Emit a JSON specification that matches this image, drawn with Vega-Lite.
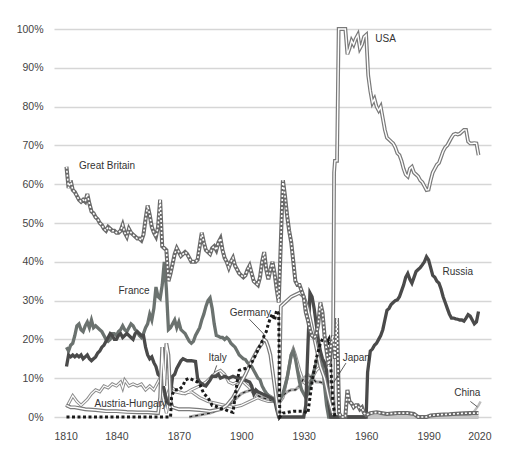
{
"$schema":"https://vega.github.io/schema/vega-lite/v6.json",
"width":437,"height":388,"autosize":{"type":"none"},
"padding":{"left":54,"top":29,"right":26,"bottom":50},
"background":"white",
"datasets":{
"s":[
{"c":"GB","x":1816,"v":64.5},{"c":"GB","x":1817,"v":59},{"c":"GB","x":1818,"v":61},{"c":"GB","x":1819,"v":58.5},{"c":"GB","x":1820,"v":58},{"c":"GB","x":1821,"v":57},{"c":"GB","x":1822,"v":56},{"c":"GB","x":1823,"v":55.5},{"c":"GB","x":1824,"v":56},{"c":"GB","x":1825,"v":55.5},{"c":"GB","x":1826,"v":57.5},{"c":"GB","x":1827,"v":55},{"c":"GB","x":1828,"v":53},{"c":"GB","x":1829,"v":52.5},{"c":"GB","x":1830,"v":51.5},{"c":"GB","x":1831,"v":51},{"c":"GB","x":1832,"v":50},{"c":"GB","x":1833,"v":49.5},{"c":"GB","x":1834,"v":48.5},{"c":"GB","x":1835,"v":48},{"c":"GB","x":1836,"v":49},{"c":"GB","x":1837,"v":48.5},{"c":"GB","x":1838,"v":48},{"c":"GB","x":1839,"v":48},{"c":"GB","x":1840,"v":47.5},{"c":"GB","x":1841,"v":47.5},{"c":"GB","x":1842,"v":48},{"c":"GB","x":1843,"v":49.5},{"c":"GB","x":1844,"v":47.5},{"c":"GB","x":1845,"v":46.5},{"c":"GB","x":1846,"v":48.5},{"c":"GB","x":1847,"v":47.5},{"c":"GB","x":1848,"v":47},{"c":"GB","x":1849,"v":46.5},{"c":"GB","x":1850,"v":46},{"c":"GB","x":1851,"v":46},{"c":"GB","x":1852,"v":45.5},{"c":"GB","x":1853,"v":47},{"c":"GB","x":1854,"v":51},{"c":"GB","x":1855,"v":54.5},{"c":"GB","x":1856,"v":52},{"c":"GB","x":1857,"v":49},{"c":"GB","x":1858,"v":47.5},{"c":"GB","x":1859,"v":46.5},{"c":"GB","x":1860,"v":49},{"c":"GB","x":1861,"v":56},{"c":"GB","x":1862,"v":44},{"c":"GB","x":1863,"v":43.5},{"c":"GB","x":1864,"v":43},{"c":"GB","x":1865,"v":35},{"c":"GB","x":1866,"v":37},{"c":"GB","x":1867,"v":39.5},{"c":"GB","x":1868,"v":42},{"c":"GB","x":1869,"v":43.5},{"c":"GB","x":1870,"v":42.5},{"c":"GB","x":1871,"v":41.5},{"c":"GB","x":1872,"v":42},{"c":"GB","x":1873,"v":42.5},{"c":"GB","x":1874,"v":42},{"c":"GB","x":1875,"v":41},{"c":"GB","x":1876,"v":40},{"c":"GB","x":1877,"v":40},{"c":"GB","x":1878,"v":40},{"c":"GB","x":1879,"v":40.5},{"c":"GB","x":1880,"v":44},{"c":"GB","x":1881,"v":47.5},{"c":"GB","x":1882,"v":45},{"c":"GB","x":1883,"v":43},{"c":"GB","x":1884,"v":42.5},{"c":"GB","x":1885,"v":42},{"c":"GB","x":1886,"v":43.5},{"c":"GB","x":1887,"v":44},{"c":"GB","x":1888,"v":43},{"c":"GB","x":1889,"v":45},{"c":"GB","x":1890,"v":46},{"c":"GB","x":1891,"v":43},{"c":"GB","x":1892,"v":41},{"c":"GB","x":1893,"v":40},{"c":"GB","x":1894,"v":38.5},{"c":"GB","x":1895,"v":40},{"c":"GB","x":1896,"v":41},{"c":"GB","x":1897,"v":39},{"c":"GB","x":1898,"v":38},{"c":"GB","x":1899,"v":37},{"c":"GB","x":1900,"v":36.5},{"c":"GB","x":1901,"v":36},{"c":"GB","x":1902,"v":36.5},{"c":"GB","x":1903,"v":38},{"c":"GB","x":1904,"v":39},{"c":"GB","x":1905,"v":37},{"c":"GB","x":1906,"v":35},{"c":"GB","x":1907,"v":34.5},{"c":"GB","x":1908,"v":34},{"c":"GB","x":1909,"v":36},{"c":"GB","x":1910,"v":40},{"c":"GB","x":1911,"v":42.5},{"c":"GB","x":1912,"v":38},{"c":"GB","x":1913,"v":35.5},{"c":"GB","x":1914,"v":38},{"c":"GB","x":1915,"v":40},{"c":"GB","x":1916,"v":37},{"c":"GB","x":1917,"v":33},{"c":"GB","x":1918,"v":29.5},{"c":"GB","x":1919,"v":45},{"c":"GB","x":1920,"v":61},{"c":"GB","x":1921,"v":57},{"c":"GB","x":1922,"v":52},{"c":"GB","x":1923,"v":48},{"c":"GB","x":1924,"v":45},{"c":"GB","x":1925,"v":40},{"c":"GB","x":1926,"v":35},{"c":"GB","x":1927,"v":34},{"c":"GB","x":1928,"v":34},{"c":"GB","x":1929,"v":32.5},{"c":"GB","x":1930,"v":31},{"c":"GB","x":1931,"v":27},{"c":"GB","x":1932,"v":25},{"c":"GB","x":1933,"v":22.5},{"c":"GB","x":1934,"v":21},{"c":"GB","x":1935,"v":20.5},{"c":"GB","x":1936,"v":21},{"c":"GB","x":1937,"v":24},{"c":"GB","x":1938,"v":29.5},{"c":"GB","x":1939,"v":27},{"c":"GB","x":1940,"v":21},{"c":"GB","x":1941,"v":17},{"c":"GB","x":1942,"v":13},{"c":"GB","x":1943,"v":18},{"c":"GB","x":1944,"v":21},{"c":"GB","x":1945,"v":15},{"c":"GB","x":1946,"v":25.5},{"c":"GB","x":1947,"v":1},{"c":"GB","x":1948,"v":0},{"c":"GB","x":1950,"v":0},{"c":"GB","x":1951,"v":7},{"c":"GB","x":1952,"v":4},{"c":"GB","x":1953,"v":3.5},{"c":"GB","x":1954,"v":2.5},{"c":"GB","x":1955,"v":3},{"c":"GB","x":1956,"v":3},{"c":"GB","x":1957,"v":2},{"c":"GB","x":1958,"v":2.5},{"c":"GB","x":1959,"v":1},{"c":"GB","x":1960,"v":0.5},{"c":"GB","x":1962,"v":1},{"c":"GB","x":1965,"v":1.2},{"c":"GB","x":1970,"v":0.8},{"c":"GB","x":1975,"v":1},{"c":"GB","x":1980,"v":1},{"c":"GB","x":1983,"v":0.8},{"c":"GB","x":1985,"v":0},{"c":"GB","x":1989,"v":0},{"c":"GB","x":1991,"v":0.4},{"c":"GB","x":1995,"v":0.6},{"c":"GB","x":2000,"v":0.7},{"c":"GB","x":2005,"v":0.9},{"c":"GB","x":2010,"v":1},{"c":"GB","x":2014,"v":1},

{"c":"USA","x":1816,"v":3},{"c":"USA","x":1818,"v":2.5},{"c":"USA","x":1820,"v":2.5},{"c":"USA","x":1825,"v":2},{"c":"USA","x":1830,"v":1.8},{"c":"USA","x":1835,"v":1.5},{"c":"USA","x":1840,"v":1.5},{"c":"USA","x":1845,"v":1.3},{"c":"USA","x":1850,"v":1.2},{"c":"USA","x":1855,"v":1.2},{"c":"USA","x":1860,"v":1},{"c":"USA","x":1861,"v":5},{"c":"USA","x":1862,"v":18},{"c":"USA","x":1863,"v":8},{"c":"USA","x":1864,"v":19},{"c":"USA","x":1865,"v":16},{"c":"USA","x":1866,"v":4},{"c":"USA","x":1867,"v":2.5},{"c":"USA","x":1870,"v":2},{"c":"USA","x":1875,"v":2},{"c":"USA","x":1880,"v":1.8},{"c":"USA","x":1885,"v":1.5},{"c":"USA","x":1890,"v":2},{"c":"USA","x":1893,"v":3},{"c":"USA","x":1896,"v":5},{"c":"USA","x":1899,"v":8},{"c":"USA","x":1902,"v":11},{"c":"USA","x":1905,"v":14.5},{"c":"USA","x":1908,"v":17.5},{"c":"USA","x":1910,"v":19},{"c":"USA","x":1911,"v":20},{"c":"USA","x":1912,"v":19.5},{"c":"USA","x":1913,"v":18},{"c":"USA","x":1914,"v":16},{"c":"USA","x":1915,"v":12},{"c":"USA","x":1916,"v":8},{"c":"USA","x":1917,"v":4},{"c":"USA","x":1918,"v":0.5},{"c":"USA","x":1919,"v":28.5},{"c":"USA","x":1920,"v":29},{"c":"USA","x":1922,"v":30},{"c":"USA","x":1924,"v":31},{"c":"USA","x":1926,"v":31.5},{"c":"USA","x":1928,"v":32},{"c":"USA","x":1930,"v":31},{"c":"USA","x":1932,"v":28},{"c":"USA","x":1934,"v":23},{"c":"USA","x":1936,"v":18},{"c":"USA","x":1938,"v":13},{"c":"USA","x":1940,"v":10},{"c":"USA","x":1942,"v":5},{"c":"USA","x":1943.9,"v":1},{"c":"USA","x":1944.6,"v":63},{"c":"USA","x":1945,"v":66},{"c":"USA","x":1946,"v":66},{"c":"USA","x":1946.8,"v":100},{"c":"USA","x":1948,"v":100},{"c":"USA","x":1950,"v":100},{"c":"USA","x":1951,"v":93.5},{"c":"USA","x":1952,"v":95},{"c":"USA","x":1953,"v":97},{"c":"USA","x":1954,"v":96},{"c":"USA","x":1955,"v":97.5},{"c":"USA","x":1956,"v":98.5},{"c":"USA","x":1957,"v":95},{"c":"USA","x":1958,"v":96},{"c":"USA","x":1959,"v":98},{"c":"USA","x":1960,"v":98.5},{"c":"USA","x":1961,"v":88},{"c":"USA","x":1962,"v":84},{"c":"USA","x":1963,"v":81},{"c":"USA","x":1964,"v":82},{"c":"USA","x":1965,"v":80},{"c":"USA","x":1966,"v":79},{"c":"USA","x":1967,"v":80},{"c":"USA","x":1968,"v":77},{"c":"USA","x":1969,"v":74},{"c":"USA","x":1970,"v":72},{"c":"USA","x":1971,"v":71.5},{"c":"USA","x":1972,"v":71},{"c":"USA","x":1973,"v":70.5},{"c":"USA","x":1974,"v":69.5},{"c":"USA","x":1975,"v":68},{"c":"USA","x":1976,"v":67.5},{"c":"USA","x":1977,"v":66},{"c":"USA","x":1978,"v":64},{"c":"USA","x":1979,"v":62.5},{"c":"USA","x":1980,"v":62},{"c":"USA","x":1981,"v":64},{"c":"USA","x":1982,"v":64.5},{"c":"USA","x":1983,"v":63},{"c":"USA","x":1984,"v":62.5},{"c":"USA","x":1985,"v":62},{"c":"USA","x":1986,"v":61},{"c":"USA","x":1987,"v":60.5},{"c":"USA","x":1988,"v":59.5},{"c":"USA","x":1989,"v":58.5},{"c":"USA","x":1990,"v":58.6},{"c":"USA","x":1991,"v":61},{"c":"USA","x":1992,"v":63},{"c":"USA","x":1993,"v":64},{"c":"USA","x":1994,"v":65},{"c":"USA","x":1995,"v":65.5},{"c":"USA","x":1996,"v":67},{"c":"USA","x":1997,"v":68.5},{"c":"USA","x":1998,"v":69.5},{"c":"USA","x":1999,"v":70},{"c":"USA","x":2000,"v":71},{"c":"USA","x":2001,"v":72},{"c":"USA","x":2002,"v":72.8},{"c":"USA","x":2003,"v":73},{"c":"USA","x":2004,"v":72.8},{"c":"USA","x":2005,"v":73},{"c":"USA","x":2006,"v":73.5},{"c":"USA","x":2007,"v":74},{"c":"USA","x":2008,"v":74},{"c":"USA","x":2009,"v":71},{"c":"USA","x":2010,"v":70.5},{"c":"USA","x":2011,"v":70.5},{"c":"USA","x":2012,"v":70.6},{"c":"USA","x":2013,"v":70.5},{"c":"USA","x":2014,"v":67.5},

{"c":"Russia","x":1816,"v":13},{"c":"Russia","x":1817,"v":16},{"c":"Russia","x":1818,"v":15.5},{"c":"Russia","x":1819,"v":16},{"c":"Russia","x":1820,"v":15.5},{"c":"Russia","x":1821,"v":16},{"c":"Russia","x":1822,"v":15.5},{"c":"Russia","x":1823,"v":16},{"c":"Russia","x":1824,"v":15},{"c":"Russia","x":1825,"v":15.5},{"c":"Russia","x":1826,"v":16},{"c":"Russia","x":1827,"v":15},{"c":"Russia","x":1828,"v":14.5},{"c":"Russia","x":1829,"v":15},{"c":"Russia","x":1830,"v":15.5},{"c":"Russia","x":1831,"v":16.5},{"c":"Russia","x":1832,"v":17},{"c":"Russia","x":1833,"v":18},{"c":"Russia","x":1834,"v":18.5},{"c":"Russia","x":1835,"v":19.5},{"c":"Russia","x":1836,"v":20.5},{"c":"Russia","x":1837,"v":21.5},{"c":"Russia","x":1838,"v":21},{"c":"Russia","x":1839,"v":20},{"c":"Russia","x":1840,"v":20},{"c":"Russia","x":1841,"v":21},{"c":"Russia","x":1842,"v":21.5},{"c":"Russia","x":1843,"v":20.5},{"c":"Russia","x":1844,"v":21},{"c":"Russia","x":1845,"v":21.5},{"c":"Russia","x":1846,"v":21},{"c":"Russia","x":1847,"v":20.5},{"c":"Russia","x":1848,"v":20},{"c":"Russia","x":1849,"v":21.5},{"c":"Russia","x":1850,"v":22},{"c":"Russia","x":1851,"v":21.5},{"c":"Russia","x":1852,"v":21},{"c":"Russia","x":1853,"v":21},{"c":"Russia","x":1854,"v":18},{"c":"Russia","x":1855,"v":16},{"c":"Russia","x":1856,"v":15},{"c":"Russia","x":1857,"v":15.5},{"c":"Russia","x":1858,"v":14},{"c":"Russia","x":1859,"v":13},{"c":"Russia","x":1860,"v":11},{"c":"Russia","x":1861,"v":10.5},{"c":"Russia","x":1862,"v":9},{"c":"Russia","x":1863,"v":7},{"c":"Russia","x":1864,"v":4},{"c":"Russia","x":1865,"v":3.5},{"c":"Russia","x":1866,"v":6},{"c":"Russia","x":1867,"v":10.5},{"c":"Russia","x":1868,"v":11},{"c":"Russia","x":1869,"v":12.5},{"c":"Russia","x":1870,"v":13.5},{"c":"Russia","x":1871,"v":14.5},{"c":"Russia","x":1872,"v":15},{"c":"Russia","x":1874,"v":14.5},{"c":"Russia","x":1876,"v":14.5},{"c":"Russia","x":1878,"v":14.3},{"c":"Russia","x":1879,"v":10},{"c":"Russia","x":1880,"v":9},{"c":"Russia","x":1882,"v":8.2},{"c":"Russia","x":1883,"v":8},{"c":"Russia","x":1885,"v":9.5},{"c":"Russia","x":1886,"v":10.5},{"c":"Russia","x":1888,"v":10.5},{"c":"Russia","x":1889,"v":11},{"c":"Russia","x":1890,"v":10},{"c":"Russia","x":1892,"v":10.5},{"c":"Russia","x":1894,"v":10},{"c":"Russia","x":1896,"v":10.5},{"c":"Russia","x":1898,"v":10},{"c":"Russia","x":1900,"v":10},{"c":"Russia","x":1902,"v":9.5},{"c":"Russia","x":1904,"v":9},{"c":"Russia","x":1905,"v":8},{"c":"Russia","x":1906,"v":6},{"c":"Russia","x":1907,"v":7},{"c":"Russia","x":1908,"v":6.5},{"c":"Russia","x":1910,"v":6},{"c":"Russia","x":1912,"v":5.5},{"c":"Russia","x":1914,"v":5},{"c":"Russia","x":1916,"v":4.5},{"c":"Russia","x":1917,"v":2},{"c":"Russia","x":1918,"v":0},{"c":"Russia","x":1930,"v":0},{"c":"Russia","x":1931,"v":3},{"c":"Russia","x":1932,"v":18},{"c":"Russia","x":1933,"v":32},{"c":"Russia","x":1934,"v":31},{"c":"Russia","x":1935,"v":28},{"c":"Russia","x":1936,"v":24},{"c":"Russia","x":1937,"v":20},{"c":"Russia","x":1938,"v":17},{"c":"Russia","x":1939,"v":15},{"c":"Russia","x":1940,"v":14},{"c":"Russia","x":1941,"v":12},{"c":"Russia","x":1942,"v":4},{"c":"Russia","x":1943,"v":0},{"c":"Russia","x":1960,"v":0},{"c":"Russia","x":1960.7,"v":11.5},{"c":"Russia","x":1962,"v":17},{"c":"Russia","x":1963,"v":17.5},{"c":"Russia","x":1964,"v":18.5},{"c":"Russia","x":1965,"v":19},{"c":"Russia","x":1966,"v":20},{"c":"Russia","x":1967,"v":21},{"c":"Russia","x":1968,"v":22.5},{"c":"Russia","x":1969,"v":25},{"c":"Russia","x":1970,"v":27.5},{"c":"Russia","x":1971,"v":28},{"c":"Russia","x":1972,"v":29},{"c":"Russia","x":1973,"v":29.5},{"c":"Russia","x":1974,"v":30},{"c":"Russia","x":1975,"v":30.2},{"c":"Russia","x":1976,"v":31},{"c":"Russia","x":1977,"v":32.5},{"c":"Russia","x":1978,"v":34},{"c":"Russia","x":1979,"v":36},{"c":"Russia","x":1980,"v":37},{"c":"Russia","x":1981,"v":35.5},{"c":"Russia","x":1982,"v":34.5},{"c":"Russia","x":1983,"v":36},{"c":"Russia","x":1984,"v":37.5},{"c":"Russia","x":1985,"v":38},{"c":"Russia","x":1986,"v":38.5},{"c":"Russia","x":1987,"v":39.2},{"c":"Russia","x":1988,"v":40},{"c":"Russia","x":1989,"v":41.3},{"c":"Russia","x":1990,"v":40.5},{"c":"Russia","x":1991,"v":38.5},{"c":"Russia","x":1992,"v":36.5},{"c":"Russia","x":1993,"v":36},{"c":"Russia","x":1994,"v":35},{"c":"Russia","x":1995,"v":34.5},{"c":"Russia","x":1996,"v":33},{"c":"Russia","x":1997,"v":31},{"c":"Russia","x":1998,"v":29.5},{"c":"Russia","x":1999,"v":28},{"c":"Russia","x":2000,"v":26.5},{"c":"Russia","x":2001,"v":25.5},{"c":"Russia","x":2002,"v":25.5},{"c":"Russia","x":2003,"v":25.3},{"c":"Russia","x":2004,"v":25.2},{"c":"Russia","x":2005,"v":25},{"c":"Russia","x":2006,"v":25},{"c":"Russia","x":2007,"v":24.7},{"c":"Russia","x":2008,"v":25.5},{"c":"Russia","x":2009,"v":26.4},{"c":"Russia","x":2010,"v":26},{"c":"Russia","x":2011,"v":25},{"c":"Russia","x":2012,"v":24},{"c":"Russia","x":2013,"v":24.5},{"c":"Russia","x":2014,"v":27.2},

{"c":"France","x":1816,"v":18},{"c":"France","x":1817,"v":17},{"c":"France","x":1818,"v":18.5},{"c":"France","x":1819,"v":19},{"c":"France","x":1820,"v":21},{"c":"France","x":1821,"v":23.5},{"c":"France","x":1822,"v":24},{"c":"France","x":1823,"v":22.5},{"c":"France","x":1824,"v":22},{"c":"France","x":1825,"v":23.5},{"c":"France","x":1826,"v":24.5},{"c":"France","x":1827,"v":23},{"c":"France","x":1828,"v":25},{"c":"France","x":1829,"v":23},{"c":"France","x":1830,"v":23.5},{"c":"France","x":1831,"v":23},{"c":"France","x":1832,"v":22.5},{"c":"France","x":1833,"v":22},{"c":"France","x":1834,"v":21},{"c":"France","x":1835,"v":20},{"c":"France","x":1836,"v":19.5},{"c":"France","x":1837,"v":20},{"c":"France","x":1838,"v":21.5},{"c":"France","x":1839,"v":21.5},{"c":"France","x":1840,"v":21},{"c":"France","x":1841,"v":22},{"c":"France","x":1842,"v":22.5},{"c":"France","x":1843,"v":23.5},{"c":"France","x":1844,"v":22.5},{"c":"France","x":1845,"v":22},{"c":"France","x":1846,"v":23},{"c":"France","x":1847,"v":24},{"c":"France","x":1848,"v":23.5},{"c":"France","x":1849,"v":22.5},{"c":"France","x":1850,"v":22},{"c":"France","x":1851,"v":21},{"c":"France","x":1852,"v":20.5},{"c":"France","x":1853,"v":21.5},{"c":"France","x":1854,"v":23},{"c":"France","x":1855,"v":24},{"c":"France","x":1856,"v":26.5},{"c":"France","x":1857,"v":25},{"c":"France","x":1858,"v":28},{"c":"France","x":1859,"v":33.5},{"c":"France","x":1860,"v":31},{"c":"France","x":1861,"v":30.5},{"c":"France","x":1862,"v":34},{"c":"France","x":1863,"v":40},{"c":"France","x":1864,"v":33},{"c":"France","x":1865,"v":22.5},{"c":"France","x":1866,"v":23},{"c":"France","x":1867,"v":24},{"c":"France","x":1868,"v":25},{"c":"France","x":1869,"v":23},{"c":"France","x":1870,"v":24.5},{"c":"France","x":1871,"v":22.5},{"c":"France","x":1872,"v":22},{"c":"France","x":1873,"v":21.5},{"c":"France","x":1874,"v":20.5},{"c":"France","x":1875,"v":19.5},{"c":"France","x":1876,"v":19},{"c":"France","x":1877,"v":19.5},{"c":"France","x":1878,"v":21},{"c":"France","x":1879,"v":22},{"c":"France","x":1880,"v":23},{"c":"France","x":1881,"v":25},{"c":"France","x":1882,"v":26.5},{"c":"France","x":1883,"v":28.5},{"c":"France","x":1884,"v":30},{"c":"France","x":1885,"v":30.7},{"c":"France","x":1886,"v":28},{"c":"France","x":1887,"v":24},{"c":"France","x":1888,"v":21},{"c":"France","x":1889,"v":20.8},{"c":"France","x":1890,"v":20.5},{"c":"France","x":1891,"v":20.5},{"c":"France","x":1892,"v":20},{"c":"France","x":1893,"v":20.5},{"c":"France","x":1894,"v":20},{"c":"France","x":1895,"v":19},{"c":"France","x":1896,"v":18.5},{"c":"France","x":1897,"v":18},{"c":"France","x":1898,"v":17},{"c":"France","x":1899,"v":16},{"c":"France","x":1900,"v":15.5},{"c":"France","x":1901,"v":15},{"c":"France","x":1902,"v":14.8},{"c":"France","x":1903,"v":14},{"c":"France","x":1904,"v":13.5},{"c":"France","x":1905,"v":13},{"c":"France","x":1906,"v":12},{"c":"France","x":1907,"v":11},{"c":"France","x":1908,"v":10},{"c":"France","x":1909,"v":9.6},{"c":"France","x":1910,"v":8},{"c":"France","x":1911,"v":7},{"c":"France","x":1912,"v":6.2},{"c":"France","x":1913,"v":5.5},{"c":"France","x":1914,"v":5},{"c":"France","x":1916,"v":4},{"c":"France","x":1917,"v":3.5},{"c":"France","x":1918,"v":4},{"c":"France","x":1919,"v":5},{"c":"France","x":1920,"v":6},{"c":"France","x":1921,"v":8},{"c":"France","x":1922,"v":10},{"c":"France","x":1923,"v":13},{"c":"France","x":1924,"v":16},{"c":"France","x":1925,"v":17},{"c":"France","x":1926,"v":15},{"c":"France","x":1927,"v":12},{"c":"France","x":1928,"v":9},{"c":"France","x":1929,"v":7},{"c":"France","x":1930,"v":6},{"c":"France","x":1931,"v":5},{"c":"France","x":1932,"v":6},{"c":"France","x":1933,"v":8},{"c":"France","x":1934,"v":10},{"c":"France","x":1935,"v":12},{"c":"France","x":1936,"v":14},{"c":"France","x":1937,"v":16},{"c":"France","x":1938,"v":15},{"c":"France","x":1939,"v":14},{"c":"France","x":1940,"v":8},{"c":"France","x":1941,"v":3},{"c":"France","x":1942,"v":0},{"c":"France","x":1960,"v":0},

{"c":"Germany","x":1816,"v":0},{"c":"Germany","x":1866,"v":0},{"c":"Germany","x":1866.5,"v":5},{"c":"Germany","x":1867,"v":6},{"c":"Germany","x":1868,"v":7},{"c":"Germany","x":1870,"v":7},{"c":"Germany","x":1872,"v":8},{"c":"Germany","x":1873,"v":9.5},{"c":"Germany","x":1875,"v":10},{"c":"Germany","x":1877,"v":9.5},{"c":"Germany","x":1879,"v":9},{"c":"Germany","x":1880,"v":8.5},{"c":"Germany","x":1882,"v":6},{"c":"Germany","x":1884,"v":5},{"c":"Germany","x":1886,"v":3},{"c":"Germany","x":1888,"v":2.7},{"c":"Germany","x":1890,"v":2.2},{"c":"Germany","x":1892,"v":2},{"c":"Germany","x":1894,"v":1.5},{"c":"Germany","x":1896,"v":1.2},{"c":"Germany","x":1897,"v":5},{"c":"Germany","x":1898,"v":9},{"c":"Germany","x":1899,"v":12},{"c":"Germany","x":1900,"v":12.2},{"c":"Germany","x":1902,"v":12.5},{"c":"Germany","x":1904,"v":13},{"c":"Germany","x":1905,"v":14},{"c":"Germany","x":1906,"v":15},{"c":"Germany","x":1908,"v":17.3},{"c":"Germany","x":1910,"v":19.5},{"c":"Germany","x":1911,"v":21},{"c":"Germany","x":1912,"v":22},{"c":"Germany","x":1913,"v":24},{"c":"Germany","x":1914,"v":25.5},{"c":"Germany","x":1915,"v":26.6},{"c":"Germany","x":1916,"v":25},{"c":"Germany","x":1917,"v":27.5},{"c":"Germany","x":1918,"v":26.5},{"c":"Germany","x":1918.5,"v":0},{"c":"Germany","x":1920,"v":1},{"c":"Germany","x":1925,"v":1.5},{"c":"Germany","x":1930,"v":1.5},{"c":"Germany","x":1932,"v":1},{"c":"Germany","x":1933,"v":5},{"c":"Germany","x":1934,"v":9},{"c":"Germany","x":1935,"v":12},{"c":"Germany","x":1936,"v":15},{"c":"Germany","x":1937,"v":17},{"c":"Germany","x":1938,"v":19},{"c":"Germany","x":1939,"v":20},{"c":"Germany","x":1940,"v":21},{"c":"Germany","x":1941,"v":19},{"c":"Germany","x":1942,"v":20},{"c":"Germany","x":1943,"v":13},{"c":"Germany","x":1944,"v":4},{"c":"Germany","x":1945,"v":0},

{"c":"Japan","x":1875,"v":0},{"c":"Japan","x":1880,"v":0.5},{"c":"Japan","x":1885,"v":1},{"c":"Japan","x":1890,"v":2},{"c":"Japan","x":1895,"v":3.5},{"c":"Japan","x":1898,"v":5},{"c":"Japan","x":1900,"v":6},{"c":"Japan","x":1902,"v":6.5},{"c":"Japan","x":1905,"v":7},{"c":"Japan","x":1908,"v":5.5},{"c":"Japan","x":1910,"v":5},{"c":"Japan","x":1913,"v":4.5},{"c":"Japan","x":1916,"v":4},{"c":"Japan","x":1918,"v":4},{"c":"Japan","x":1920,"v":5.5},{"c":"Japan","x":1922,"v":6.5},{"c":"Japan","x":1924,"v":7},{"c":"Japan","x":1926,"v":7},{"c":"Japan","x":1928,"v":8},{"c":"Japan","x":1930,"v":10},{"c":"Japan","x":1932,"v":11},{"c":"Japan","x":1934,"v":10},{"c":"Japan","x":1936,"v":9},{"c":"Japan","x":1938,"v":9},{"c":"Japan","x":1940,"v":8.5},{"c":"Japan","x":1942,"v":9},{"c":"Japan","x":1944,"v":9.5},{"c":"Japan","x":1945,"v":0},

{"c":"Italy","x":1861,"v":3},{"c":"Italy","x":1864,"v":5},{"c":"Italy","x":1866,"v":8},{"c":"Italy","x":1868,"v":7},{"c":"Italy","x":1870,"v":6.5},{"c":"Italy","x":1873,"v":6},{"c":"Italy","x":1876,"v":7},{"c":"Italy","x":1880,"v":8},{"c":"Italy","x":1883,"v":9},{"c":"Italy","x":1886,"v":10.5},{"c":"Italy","x":1888,"v":11.5},{"c":"Italy","x":1890,"v":12},{"c":"Italy","x":1892,"v":11},{"c":"Italy","x":1894,"v":9},{"c":"Italy","x":1896,"v":8.5},{"c":"Italy","x":1898,"v":9},{"c":"Italy","x":1900,"v":9.5},{"c":"Italy","x":1902,"v":8.5},{"c":"Italy","x":1904,"v":7.5},{"c":"Italy","x":1906,"v":6},{"c":"Italy","x":1908,"v":5},{"c":"Italy","x":1910,"v":4.5},{"c":"Italy","x":1913,"v":4},{"c":"Italy","x":1916,"v":4},{"c":"Italy","x":1918,"v":3.5},{"c":"Italy","x":1920,"v":5},{"c":"Italy","x":1922,"v":10},{"c":"Italy","x":1924,"v":16},{"c":"Italy","x":1925,"v":17.5},{"c":"Italy","x":1926,"v":16},{"c":"Italy","x":1928,"v":12},{"c":"Italy","x":1930,"v":9},{"c":"Italy","x":1932,"v":8},{"c":"Italy","x":1934,"v":10},{"c":"Italy","x":1936,"v":12},{"c":"Italy","x":1938,"v":13},{"c":"Italy","x":1940,"v":11},{"c":"Italy","x":1942,"v":7},{"c":"Italy","x":1943,"v":2},{"c":"Italy","x":1944,"v":0},{"c":"Italy","x":2014,"v":0},

{"c":"AH","x":1816,"v":2.5},{"c":"AH","x":1817,"v":3.5},{"c":"AH","x":1819,"v":5.5},{"c":"AH","x":1821,"v":4},{"c":"AH","x":1823,"v":3},{"c":"AH","x":1826,"v":4.5},{"c":"AH","x":1828,"v":6},{"c":"AH","x":1830,"v":7},{"c":"AH","x":1832,"v":6.5},{"c":"AH","x":1834,"v":8},{"c":"AH","x":1836,"v":7.5},{"c":"AH","x":1838,"v":8.5},{"c":"AH","x":1840,"v":8},{"c":"AH","x":1842,"v":9},{"c":"AH","x":1843,"v":7.5},{"c":"AH","x":1844,"v":9.5},{"c":"AH","x":1846,"v":8},{"c":"AH","x":1848,"v":8.5},{"c":"AH","x":1850,"v":8},{"c":"AH","x":1852,"v":8.5},{"c":"AH","x":1854,"v":7},{"c":"AH","x":1856,"v":8},{"c":"AH","x":1858,"v":7},{"c":"AH","x":1860,"v":9},{"c":"AH","x":1861,"v":10},{"c":"AH","x":1862,"v":6},{"c":"AH","x":1864,"v":1},{"c":"AH","x":1866,"v":7},{"c":"AH","x":1868,"v":6.5},{"c":"AH","x":1872,"v":6},{"c":"AH","x":1876,"v":6.5},{"c":"AH","x":1880,"v":5},{"c":"AH","x":1884,"v":4},{"c":"AH","x":1888,"v":3.5},{"c":"AH","x":1892,"v":3},{"c":"AH","x":1896,"v":2.5},{"c":"AH","x":1900,"v":3},{"c":"AH","x":1904,"v":4},{"c":"AH","x":1908,"v":5},{"c":"AH","x":1912,"v":6},{"c":"AH","x":1915,"v":5},{"c":"AH","x":1918,"v":4},

{"c":"China","x":1990,"v":0},{"c":"China","x":2000,"v":0.3},{"c":"China","x":2005,"v":0.5},{"c":"China","x":2010,"v":0.6},{"c":"China","x":2012,"v":1.5},{"c":"China","x":2014,"v":3},{"c":"China","x":2015,"v":4}
],
"lab":[
{"t":"Great Britain","x":1822,"v":64.6},
{"t":"USA","x":1964.4,"v":97.3},
{"t":"Russia","x":1996.7,"v":37.5},
{"t":"France","x":1841,"v":32.6},
{"t":"Germany","x":1894.5,"v":26.8},
{"t":"Italy","x":1884.2,"v":15.2},
{"t":"Japan","x":1948.7,"v":15.2},
{"t":"Austria-Hungary","x":1829.5,"v":3.4},
{"t":"China","x":2002.3,"v":6.3}
],
"lead":[
{"x":1903.9,"v":25.2,"x2":1911.1,"v2":21.2},
{"x":1888.2,"v":13.3,"x2":1887,"v2":11.5},
{"x":1950.3,"v":13.9,"x2":1944.4,"v2":8.9},
{"x":2010.1,"v":4.0,"x2":2013.5,"v2":2.6}
]
},
"data":{"name":"s"},
"encoding":{
"x":{"field":"x","type":"quantitative","scale":{"domain":[1810,2020],"nice":false,"zero":false},
 "axis":{"values":[1810,1840,1870,1900,1930,1960,1990,2020],"format":"d","grid":false,"domain":false,"ticks":false,"labelPadding":14,"labelFontSize":10.5,"labelColor":"#444","labelFont":"Liberation Sans","title":null}},
"y":{"field":"v","type":"quantitative","scale":{"domain":[0,100],"nice":false},
 "axis":{"values":[0,10,20,30,40,50,60,70,80,90,100],"labelExpr":"datum.value + '%'","grid":true,"gridColor":"#d6d6d6","gridWidth":1.3,"domain":false,"ticks":false,"labelPadding":11,"labelFontSize":10.5,"labelColor":"#444","labelFont":"Liberation Sans","title":null}}
},
"layer":[
{"transform":[{"filter":"datum.c=='China'"}],"mark":{"type":"line","color":"#bdbdbd","strokeWidth":2.5}},
{"transform":[{"filter":{"field":"c","oneOf":["AH","Italy"]}}],"mark":{"type":"line","color":"#8c8c8c","strokeWidth":3.2},"encoding":{"detail":{"field":"c"}}},
{"transform":[{"filter":{"field":"c","oneOf":["AH","Italy"]}}],"mark":{"type":"line","color":"#ffffff","strokeWidth":1.2},"encoding":{"detail":{"field":"c"}}},
{"transform":[{"filter":"datum.c=='Japan'"}],"mark":{"type":"line","color":"#a8a8a8","strokeWidth":3}},
{"transform":[{"filter":"datum.c=='Japan'"}],"mark":{"type":"line","color":"#222222","strokeWidth":1.2,"strokeDash":[3,3]}},
{"transform":[{"filter":"datum.c=='France'"}],"mark":{"type":"line","color":"#6b726f","strokeWidth":3.3}},
{"transform":[{"filter":"datum.c=='Russia'"}],"mark":{"type":"line","color":"#4a4a4a","strokeWidth":3.3}},
{"transform":[{"filter":"datum.c=='USA'"}],"mark":{"type":"line","color":"#7a7a7a","strokeWidth":3.8}},
{"transform":[{"filter":"datum.c=='USA'"}],"mark":{"type":"line","color":"#ffffff","strokeWidth":1.4}},
{"transform":[{"filter":"datum.c=='Germany'"}],"mark":{"type":"line","color":"#1a1a1a","strokeWidth":3,"strokeDash":[3,2.5]}},
{"transform":[{"filter":"datum.c=='GB'"}],"mark":{"type":"line","color":"#6a6a6a","strokeWidth":4}},
{"transform":[{"filter":"datum.c=='GB'"}],"mark":{"type":"line","color":"#ffffff","strokeWidth":1.6,"strokeDash":[2,2]}},
{"data":{"name":"lead"},"mark":{"type":"rule","color":"#333333","strokeWidth":0.8},"encoding":{"x2":{"field":"x2"},"y2":{"field":"v2"}}},
{"data":{"name":"lab"},"mark":{"type":"text","align":"left","baseline":"middle","fontSize":10,"font":"Liberation Sans","color":"#333333"},"encoding":{"text":{"field":"t"}}}
],
"config":{"view":{"stroke":null}}
}
